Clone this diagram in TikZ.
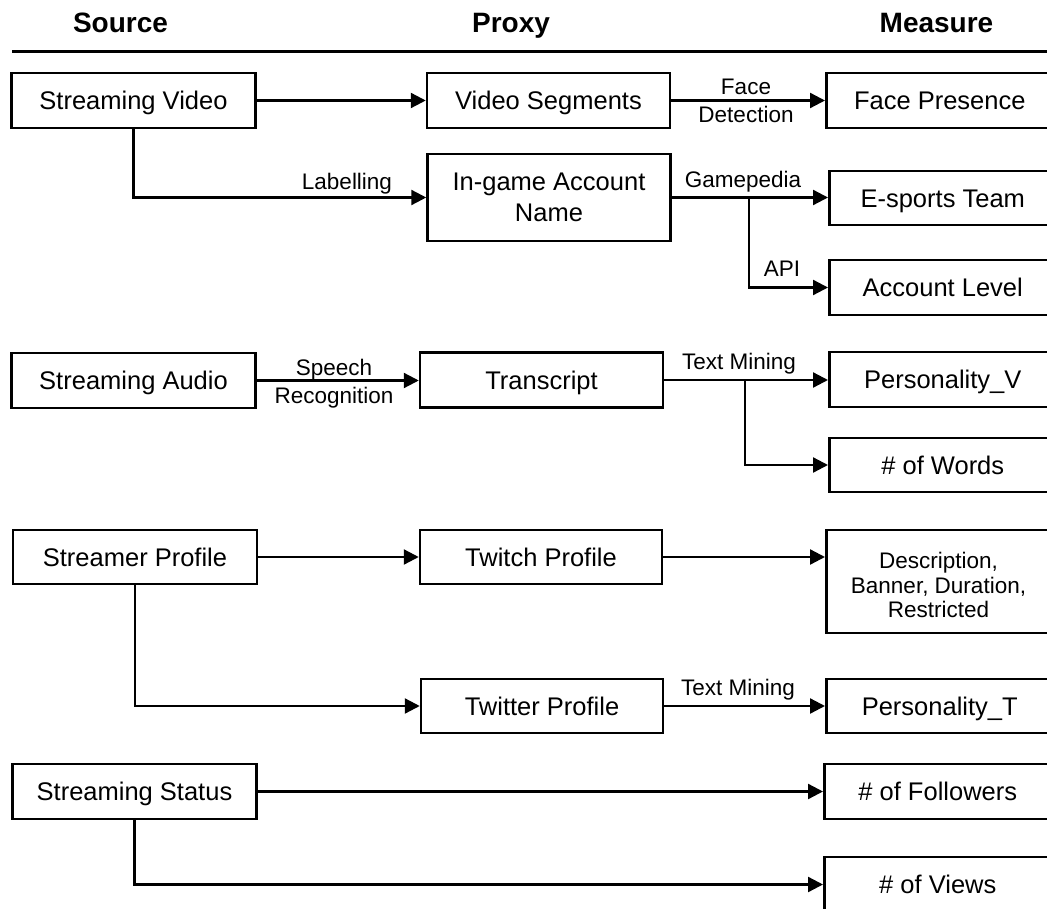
\documentclass[tikz,border=0pt]{standalone}
\usepackage{fontspec}
\setmainfont{Liberation Sans}
\usetikzlibrary{arrows.meta}
\begin{document}
\begin{tikzpicture}[x=1pt,y=-1pt,
  boxbase/.style={draw, line width=2.5pt, inner sep=0pt, minimum height=55pt},
  box/.style={boxbase, minimum width=244pt, font=\fontsize{25.5}{31}\selectfont, text height=18.3pt, text depth=0pt},
  mbox/.style={boxbase, minimum width=243pt, align=center, font=\fontsize{25.5}{31}\selectfont},
  rbox/.style={boxbase, anchor=west, minimum width=227pt, font=\fontsize{25.5}{31}\selectfont, text height=18.3pt, text depth=0pt},
  lab/.style={anchor=base, inner sep=0pt, font=\fontsize{22.5}{24}\selectfont},
  head/.style={anchor=base, inner sep=0pt, font=\fontsize{28}{30}\selectfont\bfseries},
  conn/.style={line width=2.3pt, -{Triangle[length=15pt,width=15pt]}},
  plain/.style={line width=2.3pt}
]
\useasboundingbox (0,0) rectangle (1047,909);
\clip (0,0) rectangle (1047,909);

% headers
\node[head] (hs) at (120.5,33) {Source};
\node[head] (hp) at (511,33) {Proxy};
\node[head] (hm) at (936.5,33) {Measure};
\coordinate (rl) at (12,51.5);
\coordinate (rr) at (1050,51.5);
\draw[line width=2.7pt] (rl) -- (rr);

% source boxes
\node[box] (sv) at (133.5,100.5) {Streaming Video};
\node[box] (sa) at (133.5,380.5) {Streaming Audio};
\node[box, minimum height=54pt] (sp) at (135,557) {Streamer Profile};
\node[box] (ss) at (134.5,791.5) {Streaming Status};

% proxy boxes
\node[box, minimum width=243pt] (vs) at (548.5,100.5) {Video Segments};
\node[mbox, minimum height=87pt] (ig) at (549,197.5) {In-game Account\\Name};
\node[box, minimum width=243pt] (tr) at (541.5,380) {Transcript};
\node[box, minimum width=242pt, minimum height=54pt] (tw) at (541,557) {Twitch Profile};
\node[box, minimum width=242pt, minimum height=54pt] (tt) at (542,706) {Twitter Profile};

% measure boxes
\node[rbox] (fp) at (825,100.5) {Face Presence};
\node[rbox, minimum height=54pt] (et) at (828,198) {E-sports Team};
\node[rbox] (al) at (828,287.5) {Account Level};
\node[rbox] (pv) at (828,379.5) {Personality\_V};
\node[rbox, minimum height=54pt] (nw) at (828,465) {\# of Words};
\node[rbox, minimum height=103pt] (de) at (825,581.5) {};
\node[align=center, inner sep=0pt, font=\fontsize{22.5}{24.5}\selectfont] (detxt) at (938.5,585) {Description,\\Banner, Duration,\\Restricted};
\node[rbox, minimum height=54pt] (pt) at (825,706) {Personality\_T};
\node[rbox] (nf) at (823,791.5) {\# of Followers};
\node[rbox] (nv) at (823,884.5) {\# of Views};

% connectors row 1
\draw[conn] (sv) -- (vs);
\draw[conn] (vs) -- (fp);
\node[lab] (l1a) at (746,95) {Face};
\node[lab] (l1b) at (746,123) {Detection};
\draw[conn] (sv.south) |- (ig.west);
\node[lab] (l2) at (347,190) {Labelling};
\draw[conn] (ig.east) -- (ig.east -| et.west);
\node[lab] (l3) at (743,188) {Gamepedia};
\coordinate (b1) at (749,197.5);
\draw[conn] (b1) |- (al.west);
\node[lab] (l4) at (782,277) {API};

% row 2
\draw[conn] (sa.east) -- (sa.east -| tr.west);
\node[lab] (l5a) at (334,375) {Speech};
\node[lab] (l5b) at (334,403) {Recognition};
\draw[conn] (tr.east) -- (tr.east -| pv.west);
\node[lab] (l6) at (739,369) {Text Mining};
\coordinate (b2) at (745,380);
\draw[conn] (b2) |- (nw.west);

% row 3
\draw[conn] (sp) -- (tw);
\draw[conn] (tw.east) -- (tw.east -| de.west);
\draw[conn] (sp.south) |- (tt.west);
\draw[conn] (tt) -- (pt);
\node[lab] (l7) at (738,695) {Text Mining};

% row 4
\draw[conn] (ss.east) -- (ss.east -| nf.west);
\draw[conn] (ss.south) |- (nv.west);
\end{tikzpicture}
\end{document}
